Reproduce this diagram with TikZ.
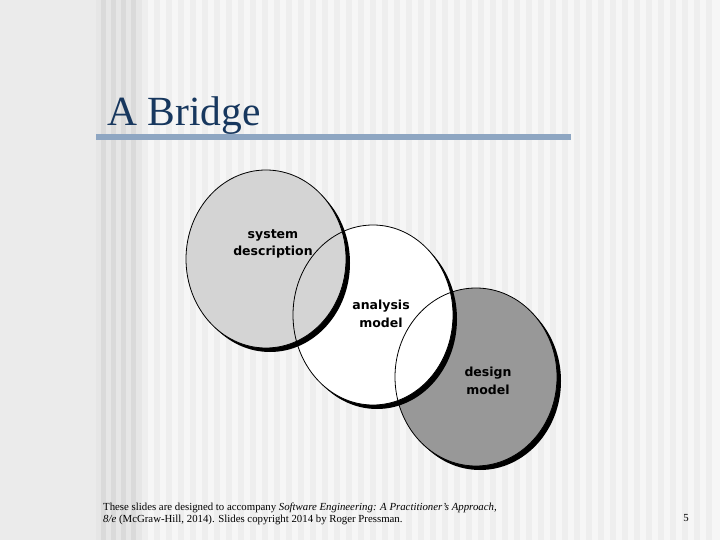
\documentclass[tikz,border=0pt]{standalone}
\usepackage{fontspec}
\setmainfont{Liberation Serif}
\newfontfamily\lblfont{DejaVu Sans}
\definecolor{bgleft}{HTML}{EBEBEB}
\definecolor{bgmid}{HTML}{E6E6E6}
\definecolor{bgmidd}{HTML}{DADADA}
\definecolor{bgright}{HTML}{F6F6F6}
\definecolor{bgrightd}{HTML}{EEEEEE}
\definecolor{titleblue}{HTML}{17375E}
\definecolor{rulecol}{HTML}{8EA6C2}
\definecolor{sysfill}{HTML}{D4D4D4}
\definecolor{desfill}{HTML}{989898}
\tikzset{
  shadowring/.style={fill=black},
  outline/.style={draw=black, line width=0.8pt},
  lbl/.style={font=\lblfont\bfseries\fontsize{12.5}{17.5}\selectfont, align=center, text=black, inner sep=0pt},
  foottext/.style={anchor=base west, inner sep=0pt, font=\fontsize{10.8}{12}\selectfont},
}
\begin{document}
\begin{tikzpicture}[x=1pt,y=-1pt]
\useasboundingbox (0,0) rectangle (720,540);
% background
\fill[bgleft] (0,0) rectangle (96,540);
\fill[bgmid] (96,0) rectangle (142,540);
\foreach \s in {101,111,121,131} { \fill[bgmidd] (\s,0) rectangle (\s+5,540); }
\fill[bgright] (142,0) rectangle (720,540);
\foreach \s in {142,154,...,710} { \fill[bgrightd] (\s,0) rectangle (\s+6,540); }
% title
\node[anchor=base west, text=titleblue, font=\fontsize{41.5}{44}\selectfont, inner sep=0pt] (title) at (107,126) {A Bridge};
\fill[rulecol] (96,134) rectangle (571,140);
% design model circle
\fill[shadowring] (480,381) ellipse [x radius=81, y radius=89];
\fill[desfill] (476,377) ellipse [x radius=81, y radius=89];
% analysis model circle
\fill[shadowring] (377,319) ellipse [x radius=80, y radius=90];
\fill[white] (373,315) ellipse [x radius=80, y radius=90];
% system description circle
\fill[shadowring] (270,263) ellipse [x radius=80, y radius=89];
\fill[sysfill] (266,259) ellipse [x radius=80, y radius=89];
% outlines
\draw[outline] (476,377) ellipse [x radius=81, y radius=89];
\draw[outline] (373,315) ellipse [x radius=80, y radius=90];
\draw[outline] (266,259) ellipse [x radius=80, y radius=89];
% labels
\node[lbl] (sys) at (273,244) {system\\description};
\node[lbl] (ana) at (381,314) {analysis\\model};
\node[lbl] (des) at (488,381) {design\\model};
% footer
\node[foottext] (foot) at (103,510) {These slides are designed to accompany \textit{Software Engineering: A Practitioner's Approach,}};
\node[foottext] (foot2) at (103,522) {\textit{8/e} (McGraw-Hill, 2014). Slides copyright 2014 by Roger Pressman.};
\node[foottext, anchor=base] (page) at (686,521) {5};
\end{tikzpicture}
\end{document}
